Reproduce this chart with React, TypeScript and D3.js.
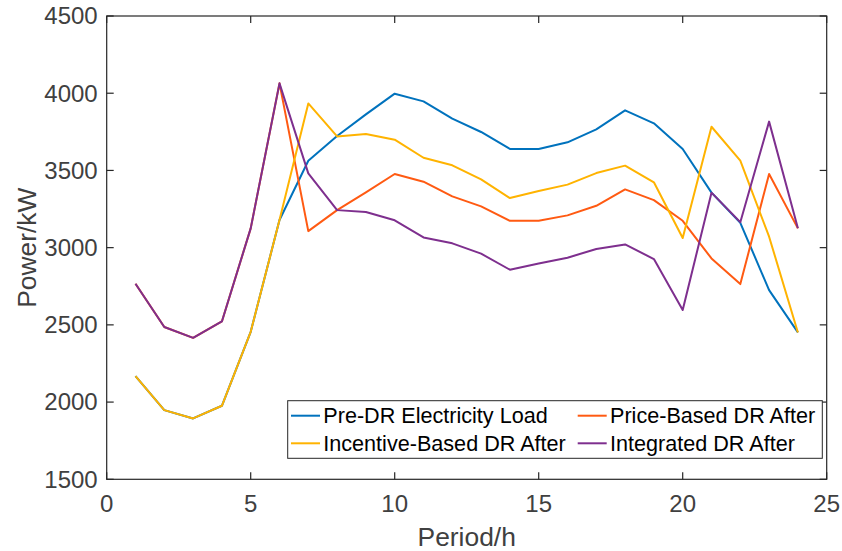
import React from "react";
import * as d3 from "d3";

const periods = d3.range(1, 25);
const preDR = [2168, 1948, 1894, 1976, 2455, 3179, 3563, 3723, 3863, 3997, 3947, 3835, 3749, 3639, 3639, 3682, 3766, 3889, 3805, 3639, 3356, 3161, 2725, 2451];
const priceDR = [2766, 2486, 2416, 2522, 3125, 4064, 3107, 3243, 3358, 3477, 3427, 3332, 3267, 3174, 3174, 3209, 3271, 3377, 3308, 3174, 2930, 2764, 3477, 3125];
const incentiveDR = [2168, 1948, 1894, 1976, 2455, 3179, 3934, 3720, 3736, 3699, 3582, 3533, 3442, 3321, 3367, 3408, 3483, 3531, 3423, 3062, 3783, 3563, 3071, 2451];
const integratedDR = [2766, 2486, 2416, 2522, 3125, 4064, 3481, 3243, 3231, 3177, 3066, 3028, 2961, 2857, 2898, 2935, 2991, 3021, 2926, 2596, 3356, 3165, 3816, 3125];
const xTicks = [0, 5, 10, 15, 20, 25];
const yTicks = [1500, 2000, 2500, 3000, 3500, 4000, 4500];

const seriesNames = ["Pre-DR Electricity Load", "Price-Based DR After", "Incentive-Based DR After", "Integrated DR After"];
const seriesValues = [preDR, priceDR, incentiveDR, integratedDR];
const seriesColors = ["#0072BD", "#FF5a12", "#FFB300", "#7E2F8E"];
// draw order: blue, orange, yellow, purple
const drawOrder = [0, 1, 2, 3];

const W = 842, H = 551;
const L = 106.7, R = 826.7, T = 16, B = 479.3;
const FONT = "'Liberation Sans', Arial, sans-serif";

export default function App() {
  const x = d3.scaleLinear().domain([0, 25]).range([L, R]);
  const y = d3.scaleLinear().domain([1500, 4500]).range([B, T]);
  const line = d3.line<number>().x((_, i) => x(periods[i])).y((d) => y(d));
  const tl = 7;

  const legendEntries = [
    { idx: 0, lx: 291, ly: 415.7 },
    { idx: 1, lx: 577.7, ly: 415.7 },
    { idx: 2, lx: 291, ly: 443.3 },
    { idx: 3, lx: 577.7, ly: 443.3 },
  ];

  return (
    <svg width={W} height={H} style={{ position: "absolute", left: 0, top: 0, background: "#fff" }} fontFamily={FONT}>
      <rect x={0} y={0} width={W} height={H} fill="#fff" />
      {drawOrder.map((k) => (
        <path key={k} d={line(seriesValues[k]) || ""} fill="none" stroke={seriesColors[k]} strokeWidth={2} strokeLinejoin="round" />
      ))}
      {/* axes box */}
      <rect x={L} y={T} width={R - L} height={B - T} fill="none" stroke="#262626" strokeWidth={1.2} />
      {xTicks.map((t) => (
        <g key={"x" + t}>
          <line x1={x(t)} x2={x(t)} y1={B} y2={B - tl} stroke="#262626" strokeWidth={1.2} />
          <line x1={x(t)} x2={x(t)} y1={T} y2={T + tl} stroke="#262626" strokeWidth={1.2} />
          <text x={x(t)} y={512} textAnchor="middle" fontSize={24} fill="#404040">{t}</text>
        </g>
      ))}
      {yTicks.map((t) => (
        <g key={"y" + t}>
          <line x1={L} x2={L + tl} y1={y(t)} y2={y(t)} stroke="#262626" strokeWidth={1.2} />
          <line x1={R} x2={R - tl} y1={y(t)} y2={y(t)} stroke="#262626" strokeWidth={1.2} />
          <text x={L - 9} y={y(t)} dy="0.35em" textAnchor="end" fontSize={24} fill="#404040">{t}</text>
        </g>
      ))}
      <text x={(L + R) / 2} y={546} textAnchor="middle" fontSize={26.4} fill="#404040">Period/h</text>
      <text transform={`translate(36,${(T + B) / 2}) rotate(-90)`} textAnchor="middle" fontSize={26.4} fill="#404040">Power/kW</text>
      {/* legend */}
      <rect x={287.7} y={400.7} width={822.3 - 287.7} height={458.3 - 400.7} fill="#fff" stroke="#262626" strokeWidth={1} />
      {legendEntries.map((e) => (
        <g key={e.idx}>
          <line x1={e.lx} x2={e.lx + 29} y1={e.ly} y2={e.ly} stroke={seriesColors[e.idx]} strokeWidth={2} />
          <text x={e.lx + 32.3} y={e.ly} dy="0.36em" fontSize={21.6} fill="#000">{seriesNames[e.idx]}</text>
        </g>
      ))}
    </svg>
  );
}
